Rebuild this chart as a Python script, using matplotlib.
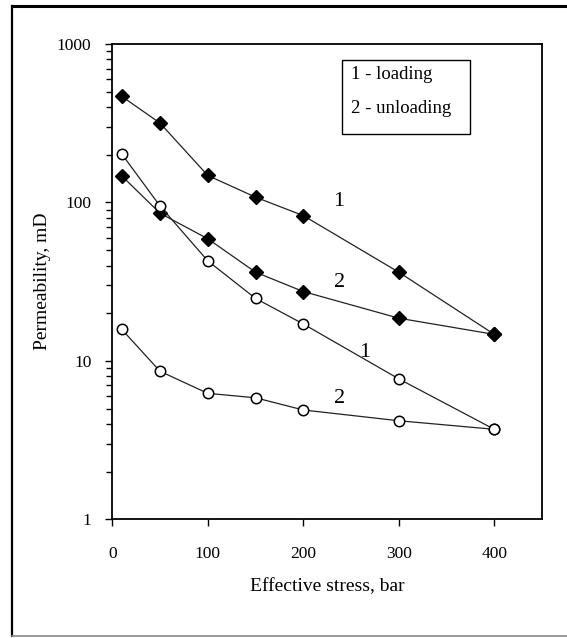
"""
plot.py - permeability vs effective stress, loading / unloading cycles.
Saves out.png
"""
import numpy as np
import matplotlib.pyplot as plt
from matplotlib.lines import Line2D
from matplotlib.patches import Rectangle
from matplotlib.ticker import LogLocator, NullFormatter, FixedLocator

# effective stress, bar
stress = [10, 50, 100, 150, 200, 300, 400]

# sample A (filled diamonds)
perm_a_loading = [467, 317, 148, 108, 82.6, 36.3, 14.7]
perm_a_unloading = [147, 85.5, 59, 36.3, 27.4, 18.6, 14.7]

# sample B (open circles)
perm_b_loading = [202, 95, 42.8, 24.8, 17.1, 7.7, 3.7]
perm_b_unloading = [15.8, 8.6, 6.24, 5.85, 4.9, 4.19, 3.7]

# curve numbers written next to the lines: (text, x, y)
curve_labels = [("1", 237, 102), ("2", 238, 31.2), ("1", 264, 11.3), ("2", 238, 5.8)]

legend_lines = ["1 - loading", "2 - unloading"]

x_ticks = [0, 100, 200, 300, 400]
y_ticks = [1, 10, 100, 1000]

plt.rcParams["font.family"] = ["Liberation Serif", "DejaVu Serif"]

fig = plt.figure(figsize=(5.67, 6.38), dpi=100)
ax = fig.add_axes([0.198, 0.186, 0.758, 0.745])

line_kw = dict(color="#222222", lw=0.9)
ax.plot(stress, perm_a_loading, marker="D", ms=7, mfc="black", mec="black", **line_kw)
ax.plot(stress, perm_a_unloading, marker="D", ms=7, mfc="black", mec="black", **line_kw)
ax.plot(stress, perm_b_loading, marker="o", ms=7.5, mfc="white", mec="black", mew=1.1, **line_kw)
ax.plot(stress, perm_b_unloading, marker="o", ms=7.5, mfc="white", mec="black", mew=1.1, **line_kw)

for txt, x, y in curve_labels:
    ax.text(x, y, txt, fontsize=16, ha="center", va="center")

ax.set_yscale("log")
ax.set_xlim(0, 450)
ax.set_ylim(1, 1000)
ax.xaxis.set_major_locator(FixedLocator(x_ticks))
ax.yaxis.set_major_locator(FixedLocator(y_ticks))
ax.yaxis.set_minor_locator(LogLocator(base=10, subs=np.arange(2, 10)))
ax.yaxis.set_minor_formatter(NullFormatter())
ax.set_xticklabels([str(t) for t in x_ticks])
ax.set_yticklabels([str(t) for t in y_ticks])
ax.tick_params(which="both", direction="out", top=False, right=False,
               labelsize=12.5, width=1.0, colors="black")
ax.tick_params(which="major", length=5, pad=14)
ax.tick_params(which="minor", length=4)
ax.tick_params(axis="y", pad=10)

for sp in ax.spines.values():
    sp.set_linewidth(1.3)

ax.set_xlabel("Effective stress, bar", fontsize=14, labelpad=12)
ax.set_ylabel("Permeability, mD", fontsize=14, labelpad=4)

# legend is just a boxed text block, no marker samples
ax.add_patch(Rectangle((0.534, 0.8105), 0.298, 0.155, transform=ax.transAxes,
                       fc="white", ec="black", lw=1.0, zorder=3))
ax.text(0.556, 0.935, legend_lines[0], transform=ax.transAxes, fontsize=13.5,
        va="center", ha="left", zorder=4)
ax.text(0.556, 0.865, legend_lines[1], transform=ax.transAxes, fontsize=13.5,
        va="center", ha="left", zorder=4)

# frame round the whole scanned figure (right side is cut off)
fig.add_artist(Line2D([12 / 567, 1.0], [1 - 6 / 638] * 2, color="black", lw=2.2))
fig.add_artist(Line2D([12 / 567] * 2, [1 - 6 / 638, 1 - 636 / 638], color="black", lw=1.6))
fig.add_artist(Line2D([12 / 567, 1.0], [1 - 636 / 638] * 2, color="#888888", lw=1.2))

fig.savefig("out.png", dpi=100)
